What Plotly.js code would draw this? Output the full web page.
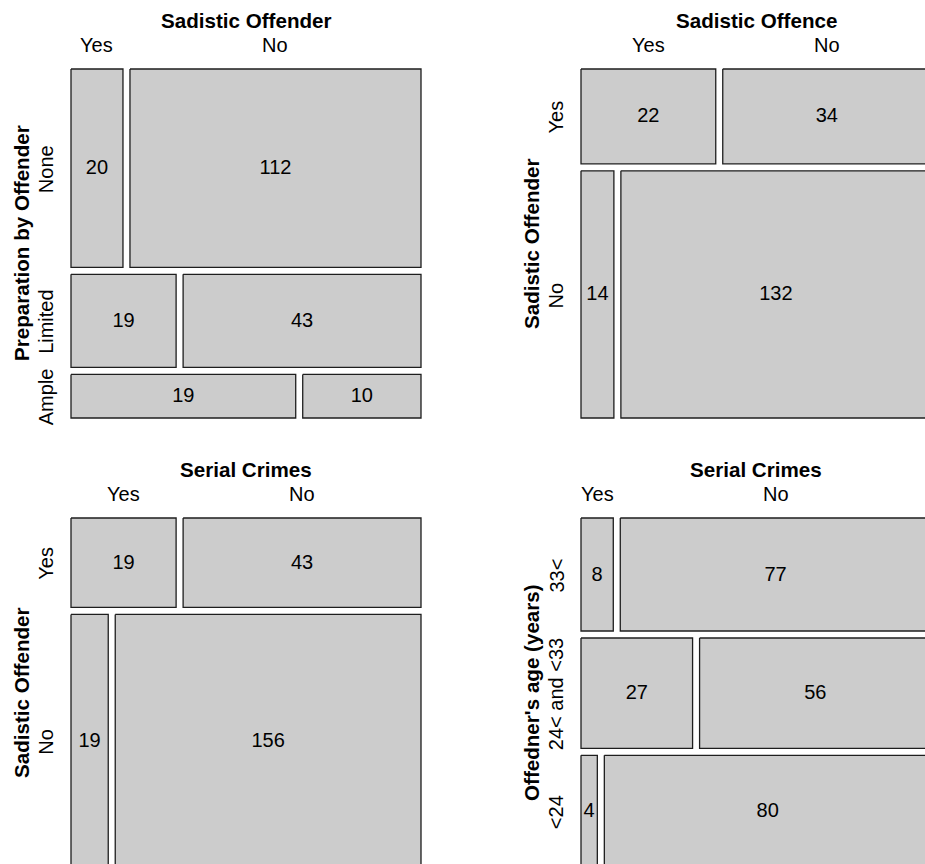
<!DOCTYPE html>
<html>
<head>
<meta charset="utf-8">
<script src="https://cdn.plot.ly/plotly-3.0.1.min.js"></script>
<style>html,body{margin:0;padding:0;background:#fff;}#chart{width:925px;height:864px;}</style>
</head>
<body>
<div id="chart"></div>
<script>
// ---------- data ----------
const p1ColTitle = "Sadistic Offender";
const p1RowTitle = "Preparation by Offender";
const p1Cols = ["Yes", "No"];
const p1Rows = ["None", "Limited", "Ample"];
const p1Counts = [[20, 112], [19, 43], [19, 10]];

const p2ColTitle = "Sadistic Offence";
const p2RowTitle = "Sadistic Offender";
const p2Cols = ["Yes", "No"];
const p2Rows = ["Yes", "No"];
const p2Counts = [[22, 34], [14, 132]];

const p3ColTitle = "Serial Crimes";
const p3RowTitle = "Sadistic Offender";
const p3Cols = ["Yes", "No"];
const p3Rows = ["Yes", "No"];
const p3Counts = [[19, 43], [19, 156]];

const p4ColTitle = "Serial Crimes";
const p4RowTitle = "Offedner's age (years)";
const p4Cols = ["Yes", "No"];
const p4Rows = ["33<", "24< and <33", "<24"];
const p4Counts = [[8, 77], [27, 56], [4, 80]];

// ---------- layout constants ----------
const FIG_W = 925, FIG_H = 864;
const PW = 350, PH = 349, GAP = 7, PAD = 3;
const FONT = "Liberation Sans, Arial, Helvetica, sans-serif";
const FS = 20, FSB = 20.6;

const panels = [
  {left: 71,  top: 69,  colTitle: p1ColTitle, rowTitle: p1RowTitle, cols: p1Cols, rows: p1Rows, counts: p1Counts},
  {left: 581, top: 69,  colTitle: p2ColTitle, rowTitle: p2RowTitle, cols: p2Cols, rows: p2Rows, counts: p2Counts},
  {left: 71,  top: 518, colTitle: p3ColTitle, rowTitle: p3RowTitle, cols: p3Cols, rows: p3Rows, counts: p3Counts},
  {left: 581, top: 518, colTitle: p4ColTitle, rowTitle: p4RowTitle, cols: p4Cols, rows: p4Rows, counts: p4Counts}
];

const traces = [];
const annotations = [];
const layout = {
  width: FIG_W, height: FIG_H,
  margin: {l: 0, r: 0, t: 0, b: 0, pad: 0},
  paper_bgcolor: "#ffffff", plot_bgcolor: "rgba(0,0,0,0)",
  showlegend: false,
  font: {family: FONT, color: "#000"},
  hovermode: false
};

panels.forEach((p, k) => {
  const sfx = k === 0 ? "" : String(k + 1);
  const xa = "x" + sfx, ya = "y" + sfx;
  const xRight = Math.min(PW + PAD, FIG_W - p.left);
  const yBottom = Math.min(PH + PAD, FIG_H - p.top);
  layout["xaxis" + sfx] = {
    domain: [(p.left - PAD) / FIG_W, (p.left + xRight) / FIG_W],
    range: [-PAD, xRight], visible: false, fixedrange: true, anchor: ya
  };
  layout["yaxis" + sfx] = {
    domain: [(FIG_H - (p.top + yBottom)) / FIG_H, (FIG_H - (p.top - PAD)) / FIG_H],
    range: [yBottom, -PAD], visible: false, fixedrange: true, anchor: xa
  };

  const rowTotals = p.counts.map(r => r.reduce((a, b) => a + b, 0));
  const total = rowTotals.reduce((a, b) => a + b, 0);
  const availH = PH - GAP * (p.rows.length - 1);
  let y = 0;
  const tx = [], ty = [], tt = [];
  p.counts.forEach((row, i) => {
    const h = availH * rowTotals[i] / total;
    const availW = PW - GAP * (row.length - 1);
    let x = 0;
    row.forEach((c, j) => {
      const w = availW * c / rowTotals[i];
      traces.push({
        type: "scatter", mode: "lines", xaxis: xa, yaxis: ya,
        x: [x, x + w, x + w, x, x], y: [y, y, y + h, y + h, y],
        fill: "toself", fillcolor: "#cccccc",
        line: {color: "#1e1e1e", width: 1.3}, hoverinfo: "skip"
      });
      tx.push(x + w / 2); ty.push(y + h / 2 + 1); tt.push(String(c));
      if (i === 0) {
        annotations.push({
          xref: xa, yref: "paper", x: x + w / 2, y: 1 - (p.top - 24) / FIG_H,
          text: p.cols[j], showarrow: false, xanchor: "center", yanchor: "middle",
          font: {family: FONT, size: FS, color: "#000"}
        });
      }
      x += w + GAP;
    });
    annotations.push({
      xref: "paper", yref: ya, x: (p.left - 25) / FIG_W, y: y + h / 2 + 1,
      text: p.rows[i], showarrow: false, textangle: -90, xanchor: "center", yanchor: "middle",
      font: {family: FONT, size: FS, color: "#000"}
    });
    y += h + GAP;
  });
  traces.push({
    type: "scatter", mode: "text", xaxis: xa, yaxis: ya,
    x: tx, y: ty, text: tt, textposition: "middle center",
    textfont: {family: FONT, size: FS, color: "#000"}, hoverinfo: "skip"
  });
  annotations.push({
    xref: xa, yref: "paper", x: PW / 2, y: 1 - (p.top - 48.5) / FIG_H,
    text: "<b>" + p.colTitle + "</b>", showarrow: false, xanchor: "center", yanchor: "middle",
    font: {family: FONT, size: FSB, color: "#000"}
  });
  annotations.push({
    xref: "paper", yref: ya, x: (p.left - 49.5) / FIG_W, y: PH / 2,
    text: "<b>" + p.rowTitle + "</b>", showarrow: false, textangle: -90, xanchor: "center", yanchor: "middle",
    font: {family: FONT, size: FSB, color: "#000"}
  });
});

layout.annotations = annotations;
Plotly.newPlot("chart", traces, layout, {displayModeBar: false, staticPlot: true});
</script>
</body>
</html>
